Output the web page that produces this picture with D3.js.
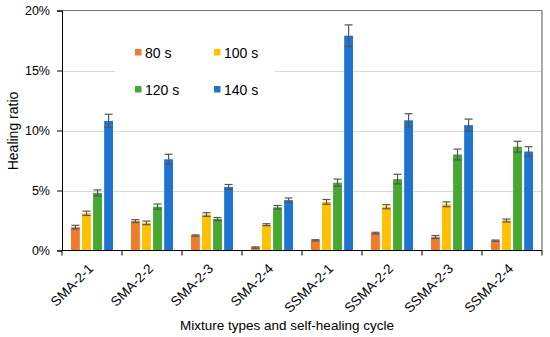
<!DOCTYPE html>
<html><head><meta charset="utf-8">
<script src="https://cdn.jsdelivr.net/npm/d3@7"></script>
<style>body{margin:0;background:#fff}svg{display:block;font-family:"Liberation Sans",Arial,sans-serif}</style>
</head><body><svg id="c" width="550" height="337"></svg>
<script>
const categories = ["SMA-2-1","SMA-2-2","SMA-2-3","SMA-2-4","SSMA-2-1","SSMA-2-2","SSMA-2-3","SSMA-2-4"];
const seriesNames = ["80 s","100 s","120 s","140 s"];
const s80  = [1.95, 2.45, 1.25, 0.25, 0.85, 1.45, 1.12, 0.82];
const s100 = [3.1, 2.3, 3.0, 2.15, 4.05, 3.65, 3.85, 2.5];
const s120 = [4.8, 3.65, 2.62, 3.6, 5.65, 5.95, 8.0, 8.65];
const s140 = [10.8, 7.6, 5.3, 4.2, 17.9, 10.85, 10.45, 8.25];
const e80  = [0.15, 0.12, 0.05, 0.05, 0.05, 0.07, 0.12, 0.05];
const e100 = [0.18, 0.15, 0.15, 0.08, 0.2, 0.17, 0.2, 0.12];
const e120 = [0.25, 0.22, 0.12, 0.15, 0.3, 0.4, 0.45, 0.45];
const e140 = [0.55, 0.42, 0.2, 0.18, 0.9, 0.55, 0.5, 0.4];
const yTicks = [0, 5, 10, 15, 20];
const colors = ["#F07B2C", "#FFC000", "#46A832", "#1F74D2"];

const values = [s80, s100, s120, s140];
const errors = [e80, e100, e120, e140];
const svg = d3.select("#c");
const L = 62, R = 542, T = 10.5, B = 250.5;
const x = d3.scaleBand().domain(categories).range([L, R]).padding(0);
const xi = d3.scaleBand().domain(seriesNames).range([9, 51]).paddingInner(0.2).paddingOuter(0);
const y = d3.scaleLinear().domain([0, 20]).range([B, T]);

// gridlines
svg.append("g").selectAll("line").data(yTicks.filter(d => d > 0 && d < 20)).join("line")
  .attr("x1", L).attr("x2", R).attr("y1", d => Math.round(y(d)) + 0.5).attr("y2", d => Math.round(y(d)) + 0.5)
  .attr("stroke", "#d9d9d9").attr("stroke-width", 1);

// legend background
const lg = svg.append("g");
lg.append("rect").attr("x", 115).attr("y", 36).attr("width", 160).attr("height", 68).attr("fill", "#fff");

// bars
const rows = [];
categories.forEach((c, i) => seriesNames.forEach((s, j) => rows.push({c, s, j, v: values[j][i], e: errors[j][i]})));
const bars = svg.append("g");
bars.selectAll("rect").data(rows).join("rect")
  .attr("x", d => x(d.c) + xi(d.s))
  .attr("width", xi.bandwidth())
  .attr("y", d => y(d.v))
  .attr("height", d => y(0) - y(d.v))
  .attr("fill", d => colors[d.j]);

// error bars
const eg = svg.append("g").attr("stroke", "#555").attr("stroke-width", 1.2);
rows.forEach(d => {
  const cx = x(d.c) + xi(d.s) + xi.bandwidth() / 2;
  eg.append("line").attr("x1", cx).attr("x2", cx).attr("y1", y(d.v + d.e)).attr("y2", y(d.v - d.e));
  [d.v + d.e, d.v - d.e].forEach(v => eg.append("line").attr("x1", cx - 4).attr("x2", cx + 4).attr("y1", y(v)).attr("y2", y(v)));
});

// frame top/right
svg.append("line").attr("x1", L).attr("x2", R).attr("y1", T).attr("y2", T).attr("stroke", "#777");
svg.append("line").attr("x1", R).attr("x2", R).attr("y1", T).attr("y2", B).attr("stroke", "#555");

// y axis
const ya = svg.append("g").attr("transform", `translate(${L},0)`)
  .call(d3.axisLeft(y).tickValues(yTicks).tickFormat(d => d + "%").tickSize(5).tickPadding(7));
ya.select(".domain").attr("stroke", "#000");
ya.selectAll(".tick line").attr("stroke", "#000");
ya.selectAll("text").attr("font-size", 12.5).attr("fill", "#000").attr("font-family", "Liberation Sans, Arial, sans-serif");

// x axis
const xa = svg.append("g").attr("transform", `translate(0,${B})`);
xa.append("line").attr("x1", L).attr("x2", R).attr("stroke", "#000");
xa.selectAll("line.tk").data(d3.range(categories.length + 1)).join("line").attr("class", "tk")
  .attr("x1", i => L + i * x.step()).attr("x2", i => L + i * x.step()).attr("y1", 0).attr("y2", 5).attr("stroke", "#000");
svg.append("g").selectAll("text").data(categories).join("text")
  .attr("transform", d => `translate(${x(d) + x.bandwidth() / 2 + 2},${B + 19}) rotate(-45)`)
  .attr("text-anchor", "end").attr("font-size", 13.5).attr("fill", "#000").text(d => d);

// axis titles
svg.append("text").attr("transform", `translate(18,131) rotate(-90)`).attr("text-anchor", "middle")
  .attr("font-size", 14).attr("fill", "#000").text("Healing ratio");
svg.append("text").attr("x", 287).attr("y", 330).attr("text-anchor", "middle")
  .attr("font-size", 13.5).attr("fill", "#000").text("Mixture types and self-healing cycle");

// legend
const lpos = [[135, 52], [214, 52], [135, 89], [214, 89]];
seriesNames.forEach((s, j) => {
  lg.append("rect").attr("x", lpos[j][0]).attr("y", lpos[j][1] - 3).attr("width", 6.5).attr("height", 6.5).attr("fill", colors[j]);
  lg.append("text").attr("x", lpos[j][0] + 10).attr("y", lpos[j][1] + 5.5).attr("font-size", 14).attr("fill", "#000").text(s);
});
</script></body></html>
